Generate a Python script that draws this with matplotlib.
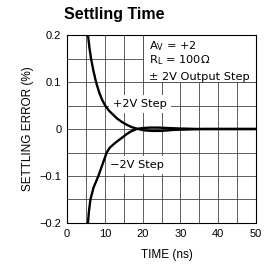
import numpy as np
import matplotlib.pyplot as plt
from matplotlib.patches import Rectangle

plt.rcParams['font.family'] = ['Liberation Sans', 'DejaVu Sans']

# settling error curves (time ns, error %)
t_pos = [5.55, 5.9, 6.35, 6.96, 7.67, 8.55, 9.3, 10.1, 11.1, 12.25, 13.3, 14.5, 15.8, 17.1, 18.8,
         20.5, 22.5, 25.0, 28.0, 32.0, 36.0, 40.0, 45.0, 50.0]
e_pos = [0.2, 0.175, 0.15, 0.125, 0.1, 0.077, 0.062, 0.05, 0.039, 0.03, 0.022, 0.015, 0.009, 0.004, 0.0,
         -0.003, -0.004, -0.004, -0.002, -0.001, 0.0, 0.0, 0.0, 0.0]

t_neg = [5.55, 5.8, 6.2, 7.0, 8.3, 9.4, 10.5, 11.3, 12.25, 13.3, 14.5, 15.6, 16.7, 18.4,
         20.0, 22.0, 24.0, 27.0, 30.0, 35.0, 40.0, 45.0, 50.0]
e_neg = [-0.2, -0.175, -0.15, -0.125, -0.1, -0.075, -0.05, -0.04, -0.033, -0.026, -0.019, -0.012, -0.006, 0.0,
         0.002, 0.003, 0.003, 0.002, 0.001, 0.0, 0.0, 0.0, 0.0]

x_ticks = [0, 10, 20, 30, 40, 50]
y_ticks = [-0.2, -0.1, 0, 0.1, 0.2]
y_labels = ['\u22120.2', '\u22120.1', '0', '0.1', '0.2']

fig = plt.figure(figsize=(2.64, 2.65), dpi=100)
ax = fig.add_axes([0.2538, 0.1585, 0.7159, 0.7094])

ax.set_xlim(0, 50)
ax.set_ylim(-0.2, 0.2)
ax.set_xticks(x_ticks)
ax.set_yticks(y_ticks)
ax.set_yticklabels(y_labels)
ax.set_xticks(np.arange(0, 51, 5), minor=True)
ax.set_yticks(np.arange(-0.2, 0.21, 0.05), minor=True)
ax.tick_params(which='both', length=0, labelsize=8, pad=4)
ax.grid(which='both', color='#444444', linewidth=0.6, zorder=0)
ax.set_axisbelow(True)
for s in ax.spines.values():
    s.set_linewidth(0.8)

# white box behind the conditions text
ax.add_patch(Rectangle((20, 0.1), 30, 0.1, facecolor='white', edgecolor='#444444',
                       linewidth=0.6, zorder=1))

ax.plot(t_pos, e_pos, color='black', linewidth=1.7, zorder=3)
ax.plot(t_neg, e_neg, color='black', linewidth=1.7, zorder=3)

ann = dict(fontsize=8.2, family='DejaVu Sans', va='center', ha='left', zorder=4)
ax.text(21.7, 0.177, r'A$_\mathregular{V}$ = +2', **ann)
ax.text(21.7, 0.147, r'R$_\mathregular{L}$ = 100$\Omega$', **ann)
ax.text(21.7, 0.111, '\u00b1 2V Output Step', **ann)

bb = dict(facecolor='white', edgecolor='none', pad=3)
ax.text(12.2, 0.053, '+2V Step', fontsize=8.2, family='DejaVu Sans', va='center', ha='left',
        bbox=bb, zorder=2)
ax.text(11.4, -0.077, '\u22122V Step', fontsize=8.2, family='DejaVu Sans', va='center', ha='left',
        bbox=bb, zorder=2)

ax.set_xlabel('TIME (ns)', fontsize=8.5, labelpad=6)
ax.xaxis.set_label_coords(0.53, -0.14)
ax.set_ylabel('SETTLING ERROR (%)', fontsize=8.5, labelpad=4)

fig.text(114 / 264, 1 - 15 / 265, 'Settling Time', fontsize=11.5, fontweight='bold',
         ha='center', va='center')

fig.savefig('out.png', dpi=100)
